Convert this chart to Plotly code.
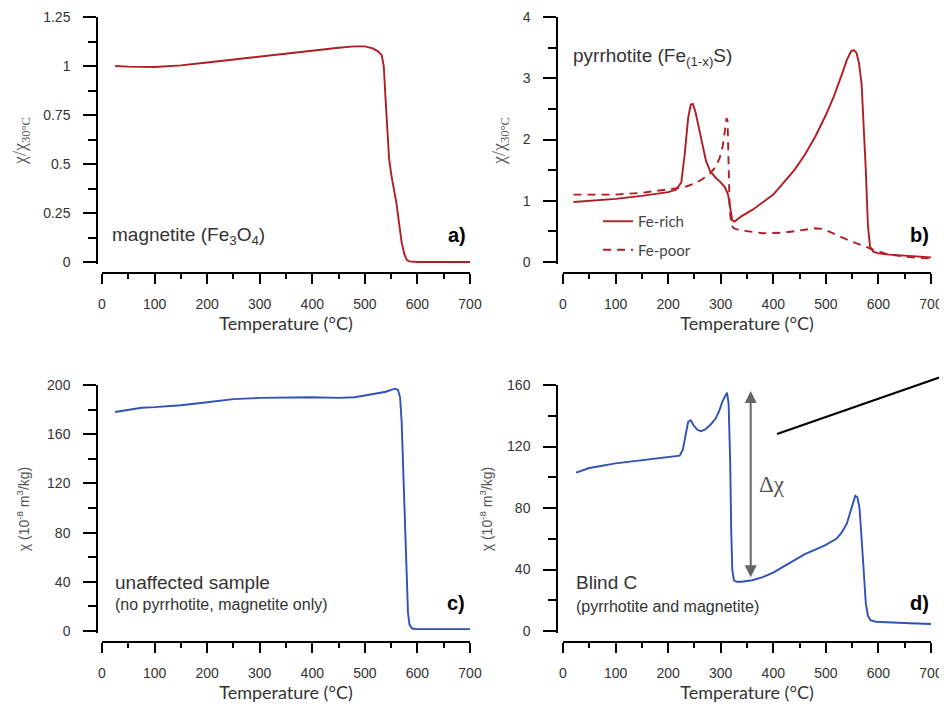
import plotly.graph_objects as go

# ---------------- data ----------------
# a) magnetite, normalised susceptibility
temp_a = [25, 50, 100, 150, 200, 250, 300, 350, 400, 450, 480, 500, 515, 525, 532, 536, 539, 542,
          546, 550, 555, 560, 565, 570, 575, 580, 585, 600, 650, 700]
chi_a = [1.0, 0.997, 0.995, 1.003, 1.018, 1.033, 1.05, 1.063, 1.077, 1.093, 1.1, 1.1, 1.09, 1.075,
         1.055, 1.0, 0.85, 0.68, 0.53, 0.45, 0.38, 0.30, 0.20, 0.10, 0.04, 0.01, 0.003, 0.0, 0.0,
         0.0]

# b) pyrrhotite Fe-rich (solid)
temp_rich = [20, 50, 100, 150, 200, 215, 225, 232, 238, 243, 247, 252, 258, 265, 272, 280, 290, 300,
             308, 314, 318, 322, 326, 332, 340, 360, 380, 400, 420, 440, 460, 480, 500, 515, 530,
             540, 548, 553, 558, 563, 568, 572, 576, 580, 584, 590, 600, 620, 650, 680, 710]
chi_rich = [0.98, 1.0, 1.03, 1.08, 1.14, 1.18, 1.3, 1.8, 2.35, 2.57, 2.58, 2.45, 2.2, 1.9, 1.65,
            1.48, 1.38, 1.3, 1.22, 1.1, 0.85, 0.68, 0.66, 0.7, 0.75, 0.85, 0.97, 1.1, 1.3, 1.5,
            1.75, 2.05, 2.4, 2.7, 3.05, 3.3, 3.44, 3.46, 3.42, 3.25, 2.9, 2.3, 1.5, 0.6, 0.25,
            0.17, 0.14, 0.12, 0.1, 0.08, 0.07]

# b) pyrrhotite Fe-poor (dashed)
temp_poor = [20, 50, 100, 150, 200, 230, 250, 265, 280, 290, 298, 304, 308, 311, 313, 315, 317, 320,
             325, 335, 350, 380, 420, 460, 480, 495, 510, 530, 550, 570, 590, 620, 660, 710]
chi_poor = [1.1, 1.1, 1.1, 1.13, 1.18, 1.22, 1.28, 1.35, 1.45, 1.55, 1.7, 1.9, 2.15, 2.35, 2.3, 1.6,
            0.9, 0.6, 0.55, 0.52, 0.5, 0.47, 0.48, 0.52, 0.55, 0.54, 0.48, 0.4, 0.33, 0.27, 0.2,
            0.12, 0.08, 0.05]

# c) unaffected sample (10^-8 m3/kg)
temp_c = [25, 50, 75, 100, 150, 200, 250, 300, 350, 400, 450, 480, 500, 520, 540, 550, 558, 563,
          567, 570, 573, 576, 579, 582, 585, 590, 600, 650, 710]
chi_c = [178, 180, 181.5, 182, 183.5, 186, 188.5, 189.5, 190, 190, 189.5, 190, 191.5, 193, 194.5,
         196, 197, 196, 190, 170, 130, 80, 40, 15, 5, 2, 1.5, 1.5, 1.5]

# d) Blind C (10^-8 m3/kg)
temp_d = [25, 50, 100, 150, 200, 215, 222, 228, 233, 238, 243, 248, 255, 262, 270, 280, 290, 297,
          303, 308, 312, 315, 318, 320, 322, 325, 330, 340, 360, 380, 400, 420, 440, 460, 480,
          500, 520, 530, 540, 547, 552, 556, 560, 564, 568, 572, 576, 580, 585, 595, 620, 660, 710]
chi_d = [103, 106, 109, 111, 113, 113.5, 114, 118, 128, 136, 137, 134, 131, 130, 131, 134, 138, 143,
         149, 153, 155, 148, 110, 65, 40, 33, 32, 32, 33, 35, 38, 42, 46, 50, 53, 56, 60, 64, 70,
         78, 85, 88, 87, 80, 60, 35, 18, 10, 7, 6, 5.5, 5, 4.5]

# annotation values for delta-chi arrow (panel d)
dchi_temp = 357
dchi_low, dchi_high = 35, 157
dchi_label_temp, dchi_label_val = 398, 95

# ---------------- layout helpers ----------------
W, H = 947, 709
OFF = 8  # page body margin
def px(x):
    return (x - OFF) / W
def py(y):
    return 1 - (y - OFF) / H

RED = '#b01e23'
BLUE = '#2e52b6'
TXT = '#333333'
TICKFONT = dict(family='Liberation Sans, Arial', size=14, color=TXT)

fig = go.Figure()
fig.add_trace(go.Scatter(x=temp_a, y=chi_a, mode='lines', line=dict(color=RED, width=1.9),
                         xaxis='x', yaxis='y', showlegend=False))
fig.add_trace(go.Scatter(x=temp_rich, y=chi_rich, mode='lines', name='Fe-rich',
                         line=dict(color=RED, width=1.9), xaxis='x2', yaxis='y2',
                         legendgroup='rich'))
fig.add_trace(go.Scatter(x=temp_poor, y=chi_poor, mode='lines', name='Fe-poor',
                         line=dict(color=RED, width=1.9, dash='8px,6px'), xaxis='x2', yaxis='y2',
                         legendgroup='poor'))
fig.add_trace(go.Scatter(x=temp_c, y=chi_c, mode='lines', line=dict(color=BLUE, width=1.9),
                         xaxis='x3', yaxis='y3', showlegend=False))
fig.add_trace(go.Scatter(x=temp_d, y=chi_d, mode='lines', line=dict(color=BLUE, width=1.9),
                         xaxis='x4', yaxis='y4', showlegend=False))


def xax(left, right, pos):
    return dict(domain=[px(left), px(right)], range=[0, 700], anchor='free', position=py(pos),
                tick0=0, dtick=100, ticks='outside', ticklen=10, tickwidth=1.5, tickcolor='black',
                showline=True, linecolor='black', linewidth=1.5, showgrid=False, zeroline=False,
                minor=dict(dtick=50, tick0=0, ticks='outside', ticklen=5, tickwidth=1.5,
                           tickcolor='black'),
                tickfont=TICKFONT, ticklabelstandoff=8, automargin=False,
                title=dict(text='Temperature (°C)', standoff=4,
                           font=dict(family='Lato', size=18, color=TXT)))


def yax(top, bottom, pos, rng, dtick, title, standoff, tfont):
    span = rng[1] - rng[0]
    low = rng[0] - span * 2.0 / (bottom - top)
    return dict(domain=[py(bottom + 2), py(top)], range=[low, rng[1]], anchor='free',
                position=px(pos), tick0=0, dtick=dtick, ticks='outside', ticklen=13,
                tickwidth=1.5, tickcolor='black', showline=True, linecolor='black',
                linewidth=1.5, showgrid=False, zeroline=False, automargin=False,
                minor=dict(dtick=dtick / 2, tick0=0, ticks='outside', ticklen=8, tickwidth=1.5,
                           tickcolor='black'),
                tickfont=TICKFONT, ticklabelstandoff=10,
                title=dict(text=title, standoff=standoff, font=tfont))


title_ratio = 'χ/χ<sub>30°C</sub>'
title_abs = 'χ (10<sup>-8</sup> m<sup>3</sup>/kg)'
ratio_font = dict(family='Liberation Serif', size=18, color='#555')
abs_font = dict(family='Liberation Sans', size=14, color='#555')

fig.update_layout(
    width=W, height=H, margin=dict(l=0, r=0, t=0, b=0, autoexpand=False),
    paper_bgcolor='white', plot_bgcolor='white',
    xaxis=xax(102, 470, 273),
    xaxis2=xax(563, 931, 273),
    xaxis3=xax(102, 470, 642),
    xaxis4=xax(563, 931, 642),
    yaxis=yax(17, 262, 97, [0, 1.25], 0.25, title_ratio, 11, ratio_font),
    yaxis2=yax(17, 262, 557, [0, 4], 1, title_ratio, 11, ratio_font),
    yaxis3=yax(385, 631, 97, [0, 200], 40, title_abs, 13, abs_font),
    yaxis4=yax(385, 631, 557, [0, 160], 40, title_abs, 10, abs_font),
    legend=dict(x=px(598), y=py(205), xanchor='left', yanchor='top', bgcolor='rgba(0,0,0,0)',
                font=dict(family='Lato', size=15, color='#444'), tracegroupgap=6,
                traceorder='grouped'),
)

def note(text, x, y, size, xanchor='left', bold=False, family='Liberation Sans, Arial', color=TXT):
    if bold:
        text = '<b>' + text + '</b>'
    fig.add_annotation(text=text, x=px(x), y=py(y), xref='paper', yref='paper', showarrow=False,
                       xanchor=xanchor, yanchor='middle',
                       font=dict(family=family, size=size, color=color))

note('magnetite (Fe<sub>3</sub>O<sub>4</sub>)', 110, 236, 19)
note('a)', 468, 235, 20, 'right', True, color='black')
note('pyrrhotite (Fe<sub>(1-x)</sub>S)', 571, 57, 19)
note('b)', 931, 235, 20, 'right', True, color='black')
note('unaffected sample', 113, 582, 19)
note('(no pyrrhotite, magnetite only)', 113, 604, 16)
note('c)', 467, 603, 20, 'right', True, color='black')
note('Blind C', 574, 582, 19)
note('(pyrrhotite and magnetite)', 574, 606, 16)
note('d)', 931, 603, 20, 'right', True, color='black')

# delta chi arrow
fig.add_annotation(x=dchi_temp, y=dchi_low, ax=dchi_temp, ay=dchi_high, xref='x4', yref='y4',
                   axref='x4', ayref='y4', showarrow=True, arrowhead=2, arrowside='end+start',
                   arrowsize=1.2, arrowwidth=2, arrowcolor='#666', text='')
fig.add_annotation(x=dchi_label_temp, y=dchi_label_val, xref='x4', yref='y4', text='Δχ',
                   showarrow=False, font=dict(family='Liberation Serif', size=23, color='#555'))

# stray pointer line at top right
fig.add_shape(type='line', xref='paper', yref='paper', x0=px(777), y0=py(434), x1=px(955),
              y1=py(372), line=dict(color='black', width=2.2))

fig.write_html('out.html')
